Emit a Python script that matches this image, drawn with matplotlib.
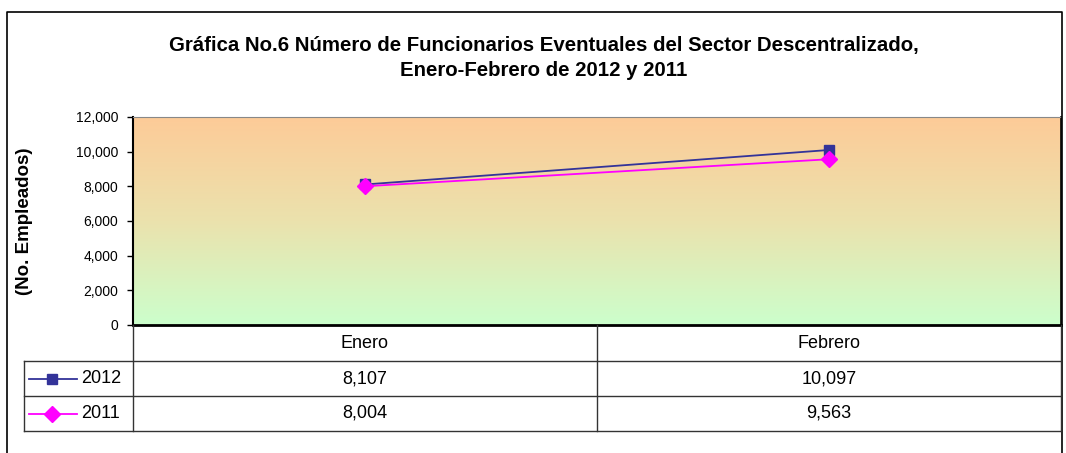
import matplotlib.pyplot as plt
import numpy as np
from matplotlib.colors import LinearSegmentedColormap

plt.rcParams['font.family'] = ['Liberation Sans', 'DejaVu Sans']

months = ['Enero', 'Febrero']
series_names = ['2012', '2011']
values_2012 = [8107, 10097]
values_2011 = [8004, 9563]
yticks = [0, 2000, 4000, 6000, 8000, 10000, 12000]

W, H = 1066, 453
fig = plt.figure(figsize=(W / 100, H / 100), dpi=100)


def fx(px):
    return px / W


def fy(py):
    return 1 - py / H


# outer chart border
fig.add_artist(plt.Line2D([fx(7), fx(7), fx(1062), fx(1062)],
                          [fy(453), fy(12), fy(12), fy(453)],
                          color='black', lw=1.2))

fig.text(fx(544), fy(45), 'Gráfica No.6 Número de Funcionarios Eventuales del Sector Descentralizado,',
         ha='center', va='center', fontsize=14.7, fontweight='bold')
fig.text(fx(544), fy(71), 'Enero-Febrero de 2012 y 2011',
         ha='center', va='center', fontsize=14.7, fontweight='bold')

left, right, top, bottom = 133, 1061, 117, 325
ax = fig.add_axes([fx(left), fy(bottom), fx(right - left), (bottom - top) / H])

# gradient background
cmap = LinearSegmentedColormap.from_list('bg', ['#ccffcc', '#ebe2ad', '#fdcb98'])
grad = np.linspace(0, 1, 256).reshape(-1, 1)
ax.imshow(grad, cmap=cmap, aspect='auto', origin='lower',
          extent=[-0.5, 1.5, 0, 12000], zorder=0)

x = np.arange(len(months))
ax.plot(x, values_2012, color='#333399', lw=1.3, marker='s', ms=7, zorder=3)
ax.plot(x, values_2011, color='#ff00ff', lw=1.3, marker='D', ms=8, zorder=3)

ax.set_xlim(-0.5, 1.5)
ax.set_ylim(0, 12000)
ax.set_yticks(yticks)
ax.set_yticklabels([f'{v:,}' for v in yticks], fontsize=10)
ax.set_xticks([])
ax.tick_params(axis='y', direction='out', length=4.5, width=1, pad=6)
ax.spines['left'].set_linewidth(1.5)
ax.spines['bottom'].set_linewidth(2)
ax.spines['top'].set_color('#888888')
ax.spines['right'].set_linewidth(1.2)
ax.set_ylabel('(No. Empleados)', fontsize=13.5, fontweight='bold')
ax.yaxis.set_label_coords((33 - left) / (right - left), 0.5)

# data table below the plot
col_div = 597
row_y = [325, 361, 396, 431]
tbl_left = 24
line_kw = dict(color='#333333', lw=1)
# horizontal lines
for yy in row_y[1:]:
    fig.add_artist(plt.Line2D([fx(tbl_left), fx(right)], [fy(yy), fy(yy)], **line_kw))
# vertical lines
fig.add_artist(plt.Line2D([fx(tbl_left), fx(tbl_left)], [fy(361), fy(431)], **line_kw))
for xx in [left, col_div, right]:
    fig.add_artist(plt.Line2D([fx(xx), fx(xx)], [fy(325), fy(431)], **line_kw))

col_centers = [(left + col_div) / 2, (col_div + right) / 2]
for cx, m in zip(col_centers, months):
    fig.text(fx(cx), fy(343), m, ha='center', va='center', fontsize=13)

styles = [('#333399', 's', 7), ('#ff00ff', 'D', 8)]
for i, (name, vals) in enumerate(zip(series_names, [values_2012, values_2011])):
    yc = (row_y[i + 1] + row_y[i + 2]) / 2
    color, marker, ms = styles[i]
    fig.add_artist(plt.Line2D([fx(29), fx(77)], [fy(yc), fy(yc)], color=color, lw=1.3))
    fig.add_artist(plt.Line2D([fx(52)], [fy(yc)], color=color, marker=marker, ms=ms))
    fig.text(fx(81), fy(yc), name, ha='left', va='center', fontsize=13)
    for cx, v in zip(col_centers, vals):
        fig.text(fx(cx), fy(yc), f'{v:,}', ha='center', va='center', fontsize=13)

fig.savefig('out.png', dpi=100, facecolor='white')
